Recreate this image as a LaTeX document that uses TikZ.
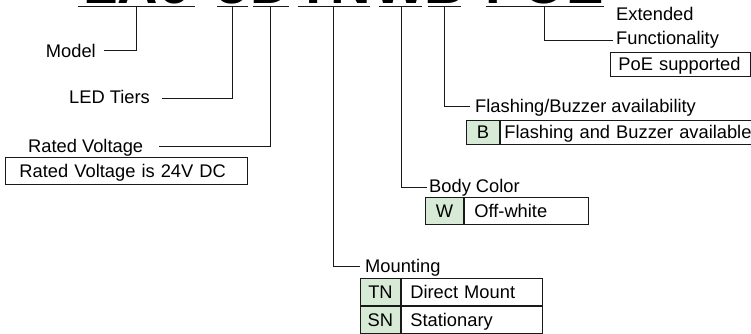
\documentclass[tikz,border=0pt]{standalone}
\usepackage{fontspec}
\setmainfont{Liberation Sans}
\definecolor{codegreen}{RGB}{214,234,214}
\definecolor{inkline}{RGB}{25,25,25}
\begin{document}
\begin{tikzpicture}[x=1pt,y=-1pt,
  lbl/.style={font=\fontsize{18.3}{20}\selectfont, inner sep=0pt, anchor=base west},
  ttl/.style={font=\fontsize{56}{60}\selectfont\bfseries, inner sep=0pt, anchor=base},
  ul/.style={draw=inkline, line width=1pt},
  conn/.style={draw=inkline, line width=1pt},
  cell/.style={draw=inkline, line width=0.9pt, inner ysep=0pt, anchor=north west,
    font=\fontsize{18.3}{20}\selectfont, text height=13pt, text depth=0pt},
  codecell/.style={cell, fill=codegreen, inner xsep=0pt, align=center},
  desccell/.style={cell, align=left}]
\useasboundingbox (0,0) rectangle (751,334);

% title (mostly cut off by the top edge)
\node[ttl] (tLA6) at (136.5,3.5) {LA6};
\node[ttl] (t3)   at (232.5,3.5) {3};
\node[ttl] (tD)   at (271,3.5) {D};
\node[ttl] (tTN)  at (333.5,3.5) {TN};
\node[ttl] (tW)   at (400,3.5) {W};
\node[ttl] (tB)   at (444.5,3.5) {B};
\node[ttl] (tPOE) at (544.5,3.5) {POE};
\draw[ul] ([xshift=-58.5pt,yshift=-3pt]tLA6.base) -- ([xshift=58.5pt,yshift=-3pt]tLA6.base);
\draw[ul] ([xshift=-15.5pt,yshift=-3pt]t3.base) -- ([xshift=15.5pt,yshift=-3pt]t3.base);
\draw[ul] ([xshift=-18pt,yshift=-3pt]tD.base) -- ([xshift=18pt,yshift=-3pt]tD.base);
\draw[ul] ([xshift=-36pt,yshift=-3pt]tTN.base) -- ([xshift=36pt,yshift=-3pt]tTN.base);
\draw[ul] ([xshift=-21.5pt,yshift=-3pt]tW.base) -- ([xshift=21.5pt,yshift=-3pt]tW.base);
\draw[ul] ([xshift=-16.5pt,yshift=-3pt]tB.base) -- ([xshift=16.5pt,yshift=-3pt]tB.base);
\draw[ul] ([xshift=-59pt,yshift=-3pt]tPOE.base) -- ([xshift=59pt,yshift=-3pt]tPOE.base);

% labels
\node[lbl, anchor=base east] (model) at (96,57.5) {Model};
\node[lbl, anchor=base east] (led) at (150,103) {LED Tiers};
\node[lbl] (rated) at (28,152) {Rated Voltage};
\node[lbl] (ext) at (616,20.5) {Extended};
\node[lbl] (func) at (616,45) {Functionality};
\node[lbl] (flash) at (475,112.5) {Flashing/Buzzer availability};
\node[lbl] (body) at (429,192.5) {Body Color};
\node[lbl] (mount) at (365,272) {Mounting};

% connector ends
\coordinate (modelEnd) at (104,51);
\coordinate (ledEnd) at (162,99);
\coordinate (ratedEnd) at (159,146);
\coordinate (funcEnd) at (613,40.5);
\coordinate (flashEnd) at (470,107);
\coordinate (bodyEnd) at (427,187);
\coordinate (mountEnd) at (360,266);

\draw[conn] ([yshift=-3pt]tLA6.base) |- (modelEnd);
\draw[conn] ([yshift=-3pt]t3.base) |- (ledEnd);
\draw[conn] ([xshift=-1pt,yshift=-3pt]tD.base) |- (ratedEnd);
\draw[conn] ([yshift=-3pt]tTN.base) |- (mountEnd);
\draw[conn] ([xshift=1pt,yshift=-3pt]tW.base) |- (bodyEnd);
\draw[conn] ([yshift=-3pt]tB.base) |- (flashEnd);
\draw[conn] ([yshift=-3pt]tPOE.base) |- (funcEnd);

% value boxes
\node[desccell, minimum width=242pt, minimum height=27pt, inner xsep=14pt, text width=214pt]
  (ratedBox) at (5,157) {\mbox{Rated Voltage is 24V DC}};
\node[desccell, minimum width=140pt, minimum height=24pt, inner xsep=8pt, text width=124pt]
  (poeBox) at (610,52) {\mbox{PoE supported}};

\node[codecell, minimum width=33pt, minimum height=24pt] (bCode) at (466,120) {B};
\node[desccell, minimum width=251pt, minimum height=24pt, inner xsep=4pt, text width=243pt]
  (bDesc) at (bCode.north east) {\mbox{Flashing and Buzzer available}};

\node[codecell, minimum width=38pt, minimum height=27pt] (wCode) at (425,197) {W};
\node[desccell, minimum width=124pt, minimum height=27pt, inner xsep=10pt, text width=104pt]
  (wDesc) at (wCode.north east) {\mbox{Off-white}};

\node[codecell, minimum width=40pt, minimum height=27pt] (tnCode) at (360,278) {TN};
\node[desccell, minimum width=141pt, minimum height=27pt, inner xsep=9pt, text width=123pt]
  (tnDesc) at (tnCode.north east) {\mbox{Direct Mount}};
\node[codecell, minimum width=40pt, minimum height=27pt] (snCode) at (tnCode.south west) {SN};
\node[desccell, minimum width=141pt, minimum height=27pt, inner xsep=9pt, text width=123pt]
  (snDesc) at (snCode.north east) {\mbox{Stationary}};
\end{tikzpicture}
\end{document}
